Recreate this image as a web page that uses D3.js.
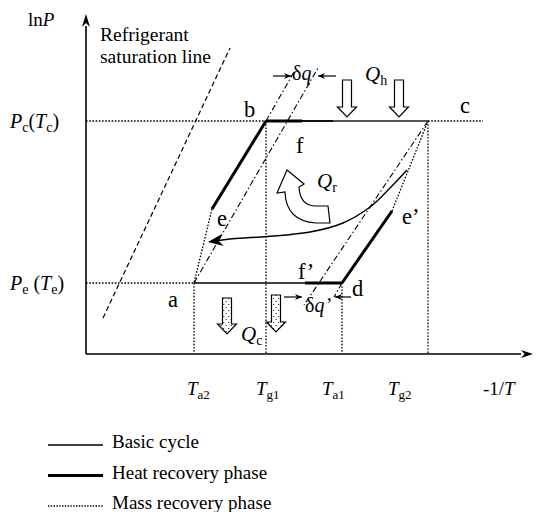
<!DOCTYPE html>
<html>
<head>
<meta charset="utf-8">
<script src="https://cdn.jsdelivr.net/npm/d3@7"></script>
<style>
  body { margin: 0; background: #fff; }
  svg { display: block; }
  text { font-family: "Liberation Serif", "Times New Roman", serif; fill: #000; }
</style>
</head>
<body>
<svg id="chart" width="536" height="512"></svg>
<script>
// ---- Cycle data in (-1/T, lnP) plot units ----
const pointNames = ["a", "b", "c", "d", "e", "f", "e'", "f'"];
const pointX     = [108, 180, 342, 256, 126, 216, 306, 219];
const pointY     = [ 71, 233, 233,  71, 145, 233, 143,  71];

// temperature ticks along -1/T and their label anchors
const tickSubs   = ["a2", "g1", "a1", "g2"];
const tickValues = [108, 180, 256, 342];
const tickLabelX = [101, 170, 236, 302];

// pressure levels: condensing and evaporating
const pressureSubs   = ["c", "e"];
const pressureValues = [233, 71];

// refrigerant saturation line and isosteres (start/end points)
const saturationLine = [[17, 36], [144, 306]];
const isosteres = [
  [[108, 71], [232, 286]],
  [[180, 233], [208, 282]],
  [[342, 233], [218, 49]],
  [[256, 71], [248, 57]]
];

// heat recovered internally (Q_r) path
const recoveryCurve = [[321, 184], [304, 166], [284, 147], [257, 131], [224, 122], [174, 117], [144, 115], [122, 112]];

// heat input/output arrows: centre, top, tip
const heatInArrows  = [[261, 274, 237], [313, 274, 237]];
const heatOutArrows = [[141, 56, 20], [190, 59, 22]];

const legendItems = ["Basic cycle", "Heat recovery phase", "Mass recovery phase"];

// ---- Scales ----
const x = d3.scaleLinear().domain([0, 447]).range([86, 533]);
const y = d3.scaleLinear().domain([0, 340]).range([354, 14]);

const svg = d3.select("#chart");
const pt = name => { const i = pointNames.indexOf(name); return [x(pointX[i]), y(pointY[i])]; };

// stipple fill for the rejected-heat arrows
const defs = svg.append("defs");
const pat = defs.append("pattern").attr("id", "stipple")
  .attr("width", 5).attr("height", 6).attr("patternUnits", "userSpaceOnUse");
pat.append("rect").attr("width", 5).attr("height", 6).attr("fill", "#fff");
pat.append("circle").attr("cx", 1.2).attr("cy", 1.5).attr("r", 0.6).attr("fill", "#000");
pat.append("circle").attr("cx", 3.7).attr("cy", 4.5).attr("r", 0.6).attr("fill", "#000");

const DOT = "1.6,1.6", DASH = "5,3", DASHDOT = "6,2.5,1.5,2.5";

function seg(p1, p2, w, dash, color) {
  svg.append("line")
    .attr("x1", p1[0]).attr("y1", p1[1]).attr("x2", p2[0]).attr("y2", p2[1])
    .attr("stroke", color || "#000").attr("stroke-width", w)
    .attr("stroke-dasharray", dash || null);
}

// arrowhead with a notched back, pointing from `from` to `tip`
function arrowHead(tip, from, len, half) {
  const dx = tip[0] - from[0], dy = tip[1] - from[1];
  const L = Math.hypot(dx, dy), ux = dx / L, uy = dy / L, nx = -uy, ny = ux;
  const bx = tip[0] - ux * len, by = tip[1] - uy * len;
  const mx = tip[0] - ux * len * 0.7, my = tip[1] - uy * len * 0.7;
  svg.append("path")
    .attr("d", `M${tip[0]},${tip[1]}L${bx + nx * half},${by + ny * half}L${mx},${my}L${bx - nx * half},${by - ny * half}Z`)
    .attr("fill", "#000");
}

// ---- Guide lines (dotted) ----
pressureValues.forEach((pv, i) => {
  const endX = i === 0 ? pointX[pointNames.indexOf("b")] : pointX[pointNames.indexOf("a")];
  seg([x(0), y(pv)], [x(endX), y(pv)], 1.3, DOT);
});
seg(pt("c"), [x(397), y(233)], 1.3, DOT);
tickValues.forEach((tv, i) => {
  const top = i === 1 || i === 3 ? 233 : 71;
  seg([x(tv), y(top)], [x(tv), y(0)], 1.3, DOT);
});

// ---- Saturation line and isosteres ----
seg([x(saturationLine[0][0]), y(saturationLine[0][1])], [x(saturationLine[1][0]), y(saturationLine[1][1])], 1.2, DASH);
isosteres.forEach(s => seg([x(s[0][0]), y(s[0][1])], [x(s[1][0]), y(s[1][1])], 1.1, DASHDOT));

// ---- Cycle ----
// basic cycle (thin)
seg(pt("f"), [x(247), y(233)], 2, null, "#111");
seg([x(247), y(233)], pt("c"), 2, null, "#555");
seg(pt("a"), pt("f'"), 1.3);
// heat recovery phase (thick)
seg(pt("e"), pt("b"), 3);
seg(pt("b"), pt("f"), 3);
seg(pt("f'"), pt("d"), 3);
seg(pt("d"), pt("e'"), 3);
// mass recovery phase (dotted)
seg(pt("e"), pt("a"), 1.3, DOT);
seg(pt("e'"), pt("c"), 1.3, DOT);

// ---- Axes ----
seg([x(0), y(0)], [x(0), y(328)], 1.6);
seg([x(0), y(0)], [x(435), y(0)], 1.6);
arrowHead([x(0), y(340)], [x(0), y(0)], 13, 4);
arrowHead([x(447), y(0)], [x(0), y(0)], 12, 4);

// ---- Internal heat recovery curve ----
const curvePts = recoveryCurve.map(p => [x(p[0]), y(p[1])]);
const tip = curvePts[curvePts.length - 1];
const prev = curvePts[curvePts.length - 2];
{
  const dx = tip[0] - prev[0], dy = tip[1] - prev[1], L = Math.hypot(dx, dy);
  const shortened = curvePts.slice(0, -1).concat([[tip[0] - dx / L * 9, tip[1] - dy / L * 9]]);
  svg.append("path")
    .attr("d", d3.line().curve(d3.curveCatmullRom)(shortened))
    .attr("fill", "none").attr("stroke", "#000").attr("stroke-width", 1.4);
  arrowHead(tip, prev, 15, 6);
}

// curved hollow arrow marking Q_r
svg.append("path")
  .attr("d", "M287,170 L304,184 L299,187 Q300,206 316,206 L328,206 L330,223 L316,223 Q286,221 285,192 L277,193 Z")
  .attr("fill", "#fff").attr("stroke", "#000").attr("stroke-width", 1.2).attr("stroke-linejoin", "miter");

// ---- Heat in / out block arrows ----
function blockArrow(cx, top, tipY, fill) {
  const sw = 4.5, hw = 9.5, hl = 10;
  const headY = tipY - hl;
  const d = `M${cx - sw},${top}L${cx + sw},${top}L${cx + sw},${headY}L${cx + hw},${headY}L${cx},${tipY}L${cx - hw},${headY}L${cx - sw},${headY}Z`;
  svg.append("path").attr("d", d).attr("fill", fill).attr("stroke", "#000").attr("stroke-width", 1.2);
}
heatInArrows.forEach(a => blockArrow(x(a[0]), y(a[1]), y(a[2]), "#fff"));
heatOutArrows.forEach(a => blockArrow(x(a[0]), y(a[1]), y(a[2]), "url(#stipple)"));

// small dimension arrows for δq and δq'
function dimArrow(x1, x2, yy) {
  seg([x1, yy], [x2, yy], 1.2);
  arrowHead([x2, yy], [x1, yy], 7, 3);
}
dimArrow(273, 291, 76);
dimArrow(336, 318, 76);
dimArrow(284, 302, 297);
dimArrow(351, 335, 297);

// ---- Text ----
function label(px, py, parts, size) {
  const t = svg.append("text").attr("x", px).attr("y", py).style("font-size", (size || 20) + "px");
  parts.forEach(p => {
    const s = t.append("tspan").text(p.t);
    if (p.i) s.style("font-style", "italic");
    if (p.sub) s.style("font-size", Math.round((size || 20) * 0.68) + "px").attr("dy", 4);
    if (p.up) s.attr("dy", -4);
  });
  return t;
}

label(28, 26, [{ t: "ln" }, { t: "P", i: 1 }], 19);
pressureSubs.forEach((s, i) => {
  const py = y(pressureValues[i]) + 7;
  const open = i === 0 ? "(" : " (";
  label(10, py, [{ t: "P", i: 1 }, { t: s, sub: 1 }, { t: open, up: 1 }, { t: "T", i: 1 }, { t: s, sub: 1 }, { t: ")", up: 1 }], 20);
});
label(100, 41, [{ t: "Refrigerant" }], 19.5);
label(100, 63, [{ t: "saturation line" }], 19.5);

// state point letters
const letterPos = { "a": [168, 307], "b": [244, 117], "c": [460, 113], "d": [352, 296], "e": [217, 226], "f": [296, 153], "e'": [402, 224], "f'": [298, 279] };
pointNames.forEach(n => {
  const p = letterPos[n];
  label(p[0], p[1], [{ t: n.replace("'", "\u2019") }], 22.5);
});

label(292, 80, [{ t: "\u03b4" }, { t: "q", i: 1 }], 20);
label(305, 312, [{ t: "\u03b4" }, { t: "q\u2019", i: 1 }], 20);
label(365, 81, [{ t: "Q", i: 1 }, { t: "h", sub: 1 }], 21);
label(317, 188, [{ t: "Q", i: 1 }, { t: "r", sub: 1 }], 21);
label(241, 341, [{ t: "Q", i: 1 }, { t: "c", sub: 1 }], 21);

tickSubs.forEach((s, i) => {
  label(x(tickLabelX[i]), 395, [{ t: "T", i: 1 }, { t: s, sub: 1 }], 19);
});
label(483, 395, [{ t: "-1/" }, { t: "T", i: 1 }], 19);

// ---- Legend ----
const legendStyles = [[1.3, null], [3, null], [1.3, "1.4,1.4"]];
legendItems.forEach((txt, i) => {
  const ly = 445 + i * 30.5;
  seg([48, ly], [103, ly], legendStyles[i][0], legendStyles[i][1]);
  label(112, ly + 3, [{ t: txt }], 19);
});
</script>
</body>
</html>
